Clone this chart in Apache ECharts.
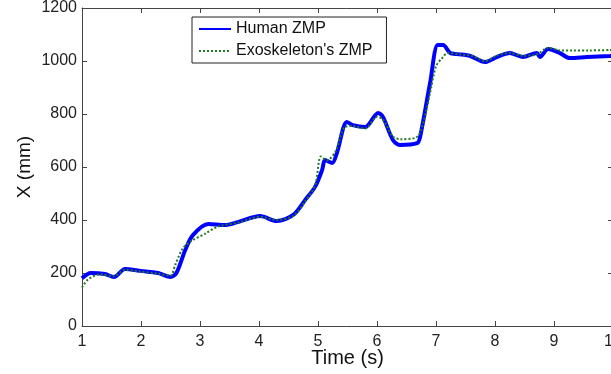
<!DOCTYPE html>
<html>
<head>
<meta charset="utf-8">
<script src="https://cdn.jsdelivr.net/npm/echarts@6/dist/echarts.min.js"></script>
<style>html,body{margin:0;padding:0;background:#fff;}#c{width:611px;height:374px;}</style>
</head>
<body>
<div id="c"></div>
<script>
var humanT = [1.0,1.15,1.39,1.54,1.73,2.0,2.29,2.5,2.6,2.75,2.88,3.14,3.42,3.64,4.02,4.3,4.58,4.78,4.95,5.07,5.12,5.24,5.32,5.49,5.59,5.8,6.02,6.1,6.27,6.39,6.68,6.73,6.9,7.03,7.12,7.24,7.36,7.58,7.83,8.03,8.25,8.47,8.71,8.76,8.9,9.1,9.27,9.56,9.95,10.0];
var humanX = [180,200,196,185,215,208,200,185,200,287,343,385,381,392,415,396,419,475,525,589,626,615,653,770,758,751,804,789,702,683,690,713,917,1060,1060,1030,1026,1019,996,1015,1030,1015,1030,1015,1045,1030,1011,1015,1019,1020];
var exoT = [1.0,1.1,1.3,1.54,1.73,2.0,2.3,2.5,2.58,2.7,2.85,3.1,3.3,3.64,4.02,4.3,4.58,4.78,4.95,5.05,5.15,5.3,5.45,5.59,5.8,6.0,6.1,6.27,6.4,6.65,6.75,6.9,7.0,7.1,7.2,7.4,7.6,7.83,8.03,8.25,8.47,8.71,8.9,9.1,9.3,9.6,10.0];
var exoX = [145,175,195,188,212,205,197,190,230,290,320,350,375,390,412,400,415,470,530,640,625,660,750,755,745,790,780,715,705,710,740,880,980,1010,1030,1025,1020,1000,1020,1030,1020,1025,1050,1040,1040,1040,1042];
var xTicks = [1,2,3,4,5,6,7,8,9,10];
var yTicks = [0,200,400,600,800,1000,1200];

function pairs(t, v){ return t.map(function(x,i){ return [x, v[i]]; }); }

var font = 'Liberation Sans, Arial, sans-serif';
var axisCol = '#444';
var chart = echarts.init(document.getElementById('c'));
chart.setOption({
  backgroundColor: '#fff',
  animation: false,
  grid: { left: 82, top: 8, width: 531, height: 318, containLabel: false, outerBoundsMode: 'none' },
  legend: {
    left: 192, top: 17, orient: 'vertical',
    backgroundColor: '#fff', borderColor: '#222', borderWidth: 1,
    padding: [4, 14, 4, 6], itemGap: 6, itemWidth: 32, itemHeight: 14,
    itemStyle: { opacity: 0 },
    textStyle: { fontFamily: font, fontSize: 16, color: '#111' },
    data: ['Human ZMP', "Exoskeleton's ZMP"]
  },
  xAxis: [{
    type: 'value', min: 1, max: 10, interval: 1,
    name: 'Time (s)', nameLocation: 'middle', nameGap: 22, nameMoveOverlap: false,
    nameTextStyle: { fontFamily: font, fontSize: 20, color: '#111', verticalAlign: 'top' },
    axisLine: { show: true, onZero: false, lineStyle: { color: axisCol, width: 1 } },
    axisTick: { show: true, inside: true, length: 5, lineStyle: { color: axisCol } },
    axisLabel: { fontFamily: font, fontSize: 16, color: '#222', margin: 8,
      formatter: function(v){ return xTicks.indexOf(v) >= 0 ? String(v) : ''; } },
    splitLine: { show: false }
  }, {
    type: 'value', min: 1, max: 10, interval: 1, position: 'top',
    axisLine: { show: true, onZero: false, lineStyle: { color: axisCol, width: 1 } },
    axisTick: { show: true, inside: true, length: 5, lineStyle: { color: axisCol } },
    axisLabel: { show: false }, splitLine: { show: false }
  }],
  yAxis: [{
    type: 'value', min: 0, max: 1200, interval: 200,
    name: 'X (mm)', nameLocation: 'middle', nameGap: 48, nameRotate: 90, nameMoveOverlap: false,
    nameTextStyle: { fontFamily: font, fontSize: 19, color: '#111' },
    axisLine: { show: true, onZero: false, lineStyle: { color: axisCol, width: 1 } },
    axisTick: { show: true, inside: true, length: 5, lineStyle: { color: axisCol } },
    axisLabel: { fontFamily: font, fontSize: 16, color: '#222', margin: 5,
      formatter: function(v){ return yTicks.indexOf(v) >= 0 ? String(v) : ''; } },
    splitLine: { show: false }
  }, {
    type: 'value', min: 0, max: 1200, interval: 200, position: 'right',
    axisLine: { show: true, onZero: false, lineStyle: { color: axisCol, width: 1 } },
    axisTick: { show: true, inside: true, length: 5, lineStyle: { color: axisCol } },
    axisLabel: { show: false }, splitLine: { show: false }
  }],
  series: [{
    name: 'Human ZMP', type: 'line', symbol: 'none', smooth: 0.3,
    data: pairs(humanT, humanX), z: 2,
    lineStyle: { color: '#0000ff', width: 4 }, itemStyle: { color: '#0000ff' }
  }, {
    name: "Exoskeleton's ZMP", type: 'line', symbol: 'none', smooth: 0.3,
    data: pairs(exoT, exoX), z: 3,
    lineStyle: { color: '#1f7a1f', width: 2, type: 'dotted' }, itemStyle: { color: '#1f7a1f' }
  }]
});
</script>
</body>
</html>
